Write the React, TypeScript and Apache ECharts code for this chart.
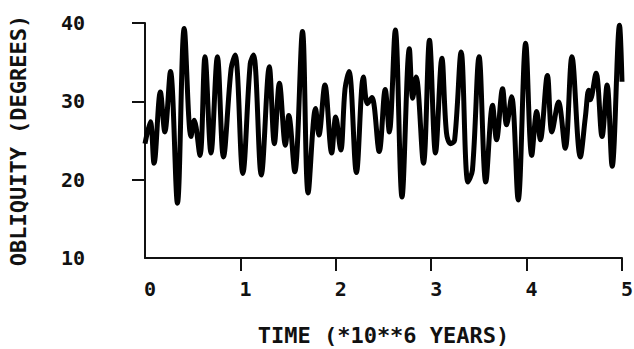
import React, { useEffect, useRef } from "react";
import * as echarts from "echarts";

// time in units of 10^6 years, obliquity in degrees (traced extremes)
const times: number[] = [
  0.0, 0.056, 0.095, 0.161, 0.208, 0.267, 0.34, 0.411, 0.482, 0.516, 0.576, 0.629, 0.692, 0.759,
  0.822, 0.903, 0.945, 1.025, 1.103, 1.138, 1.219, 1.303, 1.356, 1.409, 1.472, 1.507, 1.57, 1.651,
  1.71, 1.788, 1.823, 1.886, 1.957, 1.999, 2.052, 2.097, 2.139, 2.216, 2.29, 2.332, 2.378, 2.455,
  2.518, 2.561, 2.624, 2.694, 2.771, 2.806, 2.842, 2.919, 2.982, 3.045, 3.112, 3.16, 3.203, 3.245,
  3.314, 3.385, 3.432, 3.502, 3.572, 3.643, 3.685, 3.748, 3.79, 3.843, 3.912, 3.99, 4.054, 4.106,
  4.144, 4.218, 4.265, 4.334, 4.405, 4.475, 4.563, 4.616, 4.65, 4.668, 4.728, 4.791, 4.844, 4.897,
  4.974, 5.0,
];
const obliquity: number[] = [
  24.6, 27.4, 22.1, 31.2, 26.1, 33.8, 17.0, 39.3, 25.5, 27.6, 23.1, 35.7, 23.4, 35.7,
  22.9, 34.2, 35.9, 20.8, 34.8, 35.9, 20.6, 34.4, 24.6, 32.3, 24.4, 28.2, 21.0, 38.9,
  18.3, 29.1, 25.7, 32.1, 23.4, 28.0, 23.8, 31.6, 33.8, 20.9, 33.1, 29.7, 30.5, 23.6,
  31.5, 26.1, 39.1, 17.8, 36.7, 30.4, 33.1, 22.1, 37.8, 23.4, 35.5, 26.0, 24.6, 25.0,
  36.3, 19.7, 21.2, 35.7, 19.7, 29.5, 25.1, 31.6, 27.0, 30.6, 17.4, 37.4, 23.1, 28.7,
  25.1, 33.3, 26.1, 29.9, 24.0, 35.7, 22.9, 28.0, 31.4, 30.2, 33.6, 25.5, 32.1, 21.7,
  39.7, 32.5,
];
const xTicks: number[] = [1, 2, 3, 4, 5];
const yTicks: number[] = [20, 30, 40];

const FONT = "DejaVu Sans Mono";

export default function App() {
  const ref = useRef<HTMLDivElement>(null);
  useEffect(() => {
    document.body.style.margin = "0";
    if (!ref.current) return;
    const chart = echarts.init(ref.current, null, { renderer: "svg" });
    const data = times.map((t, i) => [t, obliquity[i]]);
    chart.setOption({
      animation: false,
      backgroundColor: "#ffffff",
      grid: { left: 145, right: 12, top: 23, bottom: 91, containLabel: false, outerBoundsMode: "none" },
      xAxis: {
        type: "value",
        min: 0,
        max: 5,
        interval: 1,
        name: "TIME (*10**6 YEARS)",
        nameLocation: "middle",
        nameGap: 66,
        nameTextStyle: { fontFamily: FONT, fontWeight: "bold", fontSize: 22, color: "#111" },
        axisLine: { show: true, lineStyle: { color: "#111", width: 2 } },
        axisTick: { show: true, length: 13, customValues: xTicks, lineStyle: { color: "#111", width: 2 } },
        axisLabel: {
          margin: 21,
          fontFamily: FONT,
          fontWeight: "bold",
          fontSize: 20,
          color: "#111",
          padding: [0, 0, 0, 10],
        },
        splitLine: { show: false },
      },
      yAxis: {
        type: "value",
        min: 10,
        max: 40,
        interval: 10,
        name: "OBLIQUITY (DEGREES)",
        nameLocation: "middle",
        nameGap: 116,
        nameRotate: 90,
        nameTextStyle: { fontFamily: FONT, fontWeight: "bold", fontSize: 22, color: "#111" },
        axisLine: { show: true, lineStyle: { color: "#111", width: 2 } },
        axisTick: { show: true, length: 13, customValues: yTicks, lineStyle: { color: "#111", width: 2 } },
        axisLabel: {
          margin: 60,
          fontFamily: FONT,
          fontWeight: "bold",
          fontSize: 20,
          color: "#111",
          padding: [0, 0, 8, 0],
        },
        splitLine: { show: false },
      },
      series: [
        {
          type: "line",
          data,
          smooth: 0.35,
          showSymbol: false,
          symbol: "none",
          lineStyle: { color: "#000", width: 5 },
          clip: false,
        },
      ],
    });
    return () => chart.dispose();
  }, []);
  return <div ref={ref} style={{ width: 634, height: 349 }} />;
}
